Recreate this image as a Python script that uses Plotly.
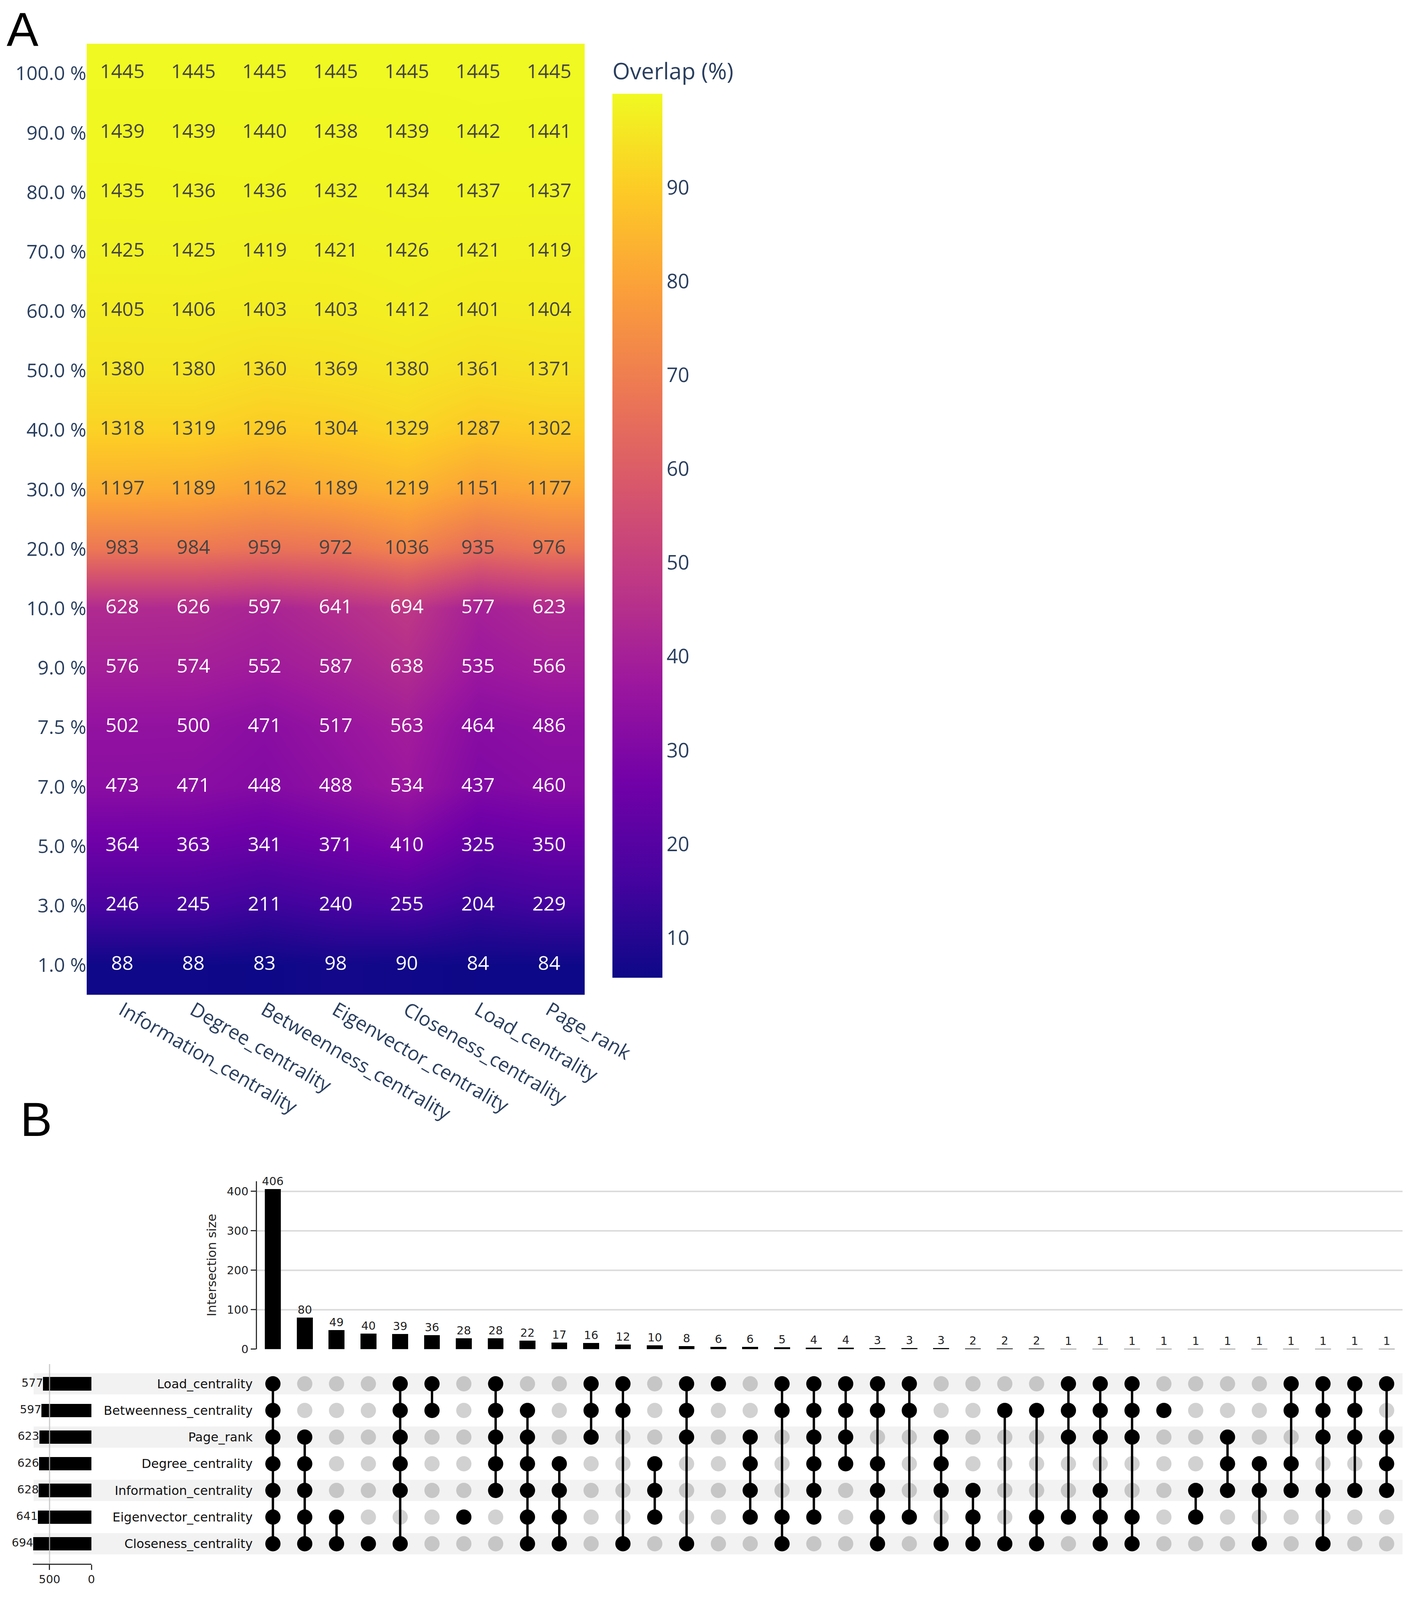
import plotly.graph_objects as go

# reference frame is 3605 x 4342; the figure is drawn a little smaller so that
# the page (with its 8 px body margin) fits in the visible browser area
REF_W, REF_H = 3605, 4342
BODY = 8
W = REF_W - 2 * BODY
H = 4060


def fx(px):
    return (px - BODY) / W


def fy(px):
    return 1 - px / REF_H


# ==================================================
# Panel A data: overlap of top-ranked nodes
# ==================================================

centralities = [
    "Information_centrality", "Degree_centrality", "Betweenness_centrality",
    "Eigenvector_centrality", "Closeness_centrality", "Load_centrality", "Page_rank",
]

top_fractions = [
    "100.0 %", "90.0 %", "80.0 %", "70.0 %", "60.0 %", "50.0 %", "40.0 %", "30.0 %",
    "20.0 %", "10.0 %", "9.0 %", "7.5 %", "7.0 %", "5.0 %", "3.0 %", "1.0 %",
]

n_nodes = 1445

overlap_counts = [
    [1445, 1445, 1445, 1445, 1445, 1445, 1445],
    [1439, 1439, 1440, 1438, 1439, 1442, 1441],
    [1435, 1436, 1436, 1432, 1434, 1437, 1437],
    [1425, 1425, 1419, 1421, 1426, 1421, 1419],
    [1405, 1406, 1403, 1403, 1412, 1401, 1404],
    [1380, 1380, 1360, 1369, 1380, 1361, 1371],
    [1318, 1319, 1296, 1304, 1329, 1287, 1302],
    [1197, 1189, 1162, 1189, 1219, 1151, 1177],
    [983, 984, 959, 972, 1036, 935, 976],
    [628, 626, 597, 641, 694, 577, 623],
    [576, 574, 552, 587, 638, 535, 566],
    [502, 500, 471, 517, 563, 464, 486],
    [473, 471, 448, 488, 534, 437, 460],
    [364, 363, 341, 371, 410, 325, 350],
    [246, 245, 211, 240, 255, 204, 229],
    [88, 88, 83, 98, 90, 84, 84],
]

colorbar_ticks = [10, 20, 30, 40, 50, 60, 70, 80, 90]

# ==================================================
# Panel B data: UpSet of the 10 % sets
# ==================================================

set_names = [
    "Load_centrality", "Betweenness_centrality", "Page_rank", "Degree_centrality",
    "Information_centrality", "Eigenvector_centrality", "Closeness_centrality",
]
set_keys = ["L", "B", "P", "D", "I", "E", "C"]
set_sizes = [577, 597, 623, 626, 628, 641, 694]

intersection_sizes = [
    406, 80, 49, 40, 39, 36, 28, 28, 22, 17, 16, 12, 10, 8, 6, 6, 5, 4,
    4, 3, 3, 3, 2, 2, 2, 1, 1, 1, 1, 1, 1, 1, 1, 1, 1, 1,
]
intersection_members = [
    "LBPDIEC", "PDIEC", "EC", "C", "LBPDIC", "LB", "E", "LBPDI", "BPDIEC",
    "DIEC", "LBP", "LBC", "DIE", "LBPC", "L", "PDIE", "LBEC", "LBPDIE",
    "LBPD", "LBDIEC", "LBE", "PDIC", "IEC", "BC", "BEC", "LBPE",
    "LBPIEC", "LBPEC", "B", "IE", "PDI", "DIC", "LBDI", "LBPIC", "LBPI", "LPDI",
]

intersection_ticks = [0, 100, 200, 300, 400]
set_size_ticks = [500, 0]

# ==================================================
# Heatmap
# ==================================================

overlap_pct = [[c / n_nodes * 100 for c in row] for row in overlap_counts]

# colour bar: bar from y=245 to y=2668 (reference px), title sits above it
cb_title_px = 81
cb_top = 245 * H / REF_H - cb_title_px
cb_bottom = 2668 * H / REF_H

fig = go.Figure()

fig.add_trace(
    go.Heatmap(
        z=overlap_pct,
        x=centralities,
        y=top_fractions,
        colorscale="Plasma",
        zsmooth="best",
        xaxis="x",
        yaxis="y",
        colorbar=dict(
            x=fx(1568),
            xanchor="left",
            y=1 - cb_top / H,
            yanchor="top",
            len=(cb_bottom - cb_top) / H,
            lenmode="fraction",
            thickness=128,
            thicknessmode="pixels",
            xpad=0,
            ypad=0,
            outlinewidth=0,
            tickvals=colorbar_ticks,
            tickfont=dict(size=51, color="#2a3f5f"),
            title=dict(text="Overlap (%)", side="top", font=dict(size=58, color="#2a3f5f")),
        ),
        hoverinfo="skip",
    )
)

tx, ty, tt, tc = [], [], [], []
for r, label in enumerate(top_fractions):
    for c, name in enumerate(centralities):
        tx.append(name)
        ty.append(label)
        tt.append(str(overlap_counts[r][c]))
        tc.append("#444444" if overlap_pct[r][c] > 55 else "white")

fig.add_trace(
    go.Scatter(
        x=tx,
        y=ty,
        mode="text",
        text=tt,
        textfont=dict(size=50, color=tc, family="Open Sans"),
        xaxis="x",
        yaxis="y",
        showlegend=False,
        hoverinfo="skip",
    )
)

# ==================================================
# UpSet: intersection size bars
# ==================================================

cols = list(range(len(intersection_sizes)))

fig.add_trace(
    go.Bar(
        x=cols,
        y=intersection_sizes,
        width=0.5,
        marker=dict(color="black", line=dict(width=0)),
        text=[str(v) for v in intersection_sizes],
        textposition="outside",
        constraintext="none",
        cliponaxis=False,
        textfont=dict(size=29, family="DejaVu Sans", color="#222222"),
        xaxis="x2",
        yaxis="y2",
        showlegend=False,
        hoverinfo="skip",
    )
)

# ==================================================
# UpSet: matrix
# ==================================================

on_x, on_y, off_x, off_y, line_x, line_y = [], [], [], [], [], []
for c, members in enumerate(intersection_members):
    rows_on = []
    for r, key in enumerate(set_keys):
        if key in members:
            on_x.append(c)
            on_y.append(r)
            rows_on.append(r)
        else:
            off_x.append(c)
            off_y.append(r)
    if len(rows_on) > 1:
        line_x += [c, c, None]
        line_y += [min(rows_on), max(rows_on), None]

fig.add_trace(
    go.Scatter(
        x=off_x, y=off_y, mode="markers",
        marker=dict(size=39, color="rgba(0,0,0,0.18)", line=dict(width=0)),
        xaxis="x3", yaxis="y3", showlegend=False, hoverinfo="skip",
    )
)
fig.add_trace(
    go.Scatter(
        x=line_x, y=line_y, mode="lines",
        line=dict(color="black", width=6),
        xaxis="x3", yaxis="y3", showlegend=False, hoverinfo="skip",
    )
)
fig.add_trace(
    go.Scatter(
        x=on_x, y=on_y, mode="markers",
        marker=dict(size=39, color="black", line=dict(width=0)),
        xaxis="x3", yaxis="y3", showlegend=False, hoverinfo="skip",
    )
)

# ==================================================
# UpSet: set size bars
# ==================================================

set_rows = list(range(len(set_sizes)))

fig.add_trace(
    go.Bar(
        x=set_sizes,
        y=set_rows,
        orientation="h",
        width=0.5,
        marker=dict(color="black", line=dict(width=0)),
        cliponaxis=False,
        xaxis="x4",
        yaxis="y3",
        showlegend=False,
        hoverinfo="skip",
    )
)

fig.add_trace(
    go.Scatter(
        x=set_sizes,
        y=set_rows,
        mode="text",
        text=[str(v) for v in set_sizes],
        textposition="middle left",
        textfont=dict(size=29, family="DejaVu Sans", color="#222222"),
        cliponaxis=False,
        xaxis="x4",
        yaxis="y3",
        showlegend=False,
        hoverinfo="skip",
    )
)

# row shading
for r in range(0, len(set_names), 2):
    fig.add_shape(
        type="rect",
        xref="paper", yref="y3",
        x0=fx(86), x1=fx(3591),
        y0=r - 0.4, y1=r + 0.4,
        fillcolor="rgba(0,0,0,0.05)",
        line=dict(width=0),
        layer="below",
    )

# grid line of the set size axis
fig.add_shape(
    type="line",
    xref="x4", yref="y3 domain",
    x0=set_size_ticks[0], x1=set_size_ticks[0], y0=0, y1=1,
    line=dict(color="rgba(190,190,190,0.8)", width=3),
    layer="above",
)

# ==================================================
# Layout
# ==================================================

dejavu = "DejaVu Sans"

fig.update_layout(
    width=W,
    height=H,
    autosize=False,
    margin=dict(l=0, r=0, t=0, b=0, pad=0),
    paper_bgcolor="white",
    plot_bgcolor="white",
    font=dict(family="Open Sans", color="#2a3f5f"),
    showlegend=False,
    bargap=0,

    xaxis=dict(
        domain=[fx(222), fx(1497)],
        anchor="y",
        automargin=False,
        range=[-0.5, len(centralities) - 0.5],
        tickangle=30,
        tickfont=dict(size=50, color="#2a3f5f"),
        showgrid=False,
        zeroline=False,
        ticks="",
    ),
    yaxis=dict(
        domain=[fy(2715), fy(111)],
        anchor="x",
        automargin=False,
        range=[len(top_fractions) - 0.5, -0.5],
        tickfont=dict(size=50, color="#2a3f5f"),
        showgrid=False,
        zeroline=False,
        ticks="",
    ),

    xaxis2=dict(
        domain=[fx(658), fx(3591)],
        anchor="y2",
        automargin=False,
        range=[-0.5, len(cols) - 0.5],
        visible=False,
    ),
    yaxis2=dict(
        domain=[fy(3685), fy(3225)],
        anchor="x2",
        automargin=False,
        range=[0, 426],
        tickvals=intersection_ticks,
        showgrid=True,
        gridcolor="#dcdcdc",
        gridwidth=4,
        zeroline=False,
        showline=True,
        linecolor="#333333",
        linewidth=3,
        ticks="outside",
        ticklen=13,
        tickwidth=3,
        tickcolor="#333333",
        tickfont=dict(size=29, family=dejavu, color="#222222"),
        title=dict(text="Intersection size", font=dict(size=32, family=dejavu, color="#222222"), standoff=18),
    ),

    xaxis3=dict(
        domain=[fx(658), fx(3591)],
        anchor="y3",
        automargin=False,
        range=[-0.5, len(cols) - 0.5],
        visible=False,
    ),
    yaxis3=dict(
        domain=[fy(4272), fy(3726)],
        anchor="x3",
        automargin=False,
        range=[6.74, -0.74],
        tickvals=set_rows,
        ticktext=set_names,
        tickfont=dict(size=32, family=dejavu, color="#111111"),
        ticklabelstandoff=10,
        showgrid=False,
        zeroline=False,
        ticks="",
    ),

    xaxis4=dict(
        domain=[fx(84), fx(234)],
        anchor="y3",
        automargin=False,
        range=[700, 0],
        tickvals=set_size_ticks,
        showgrid=False,
        zeroline=False,
        showline=True,
        linecolor="#333333",
        linewidth=3,
        ticks="outside",
        ticklen=13,
        tickwidth=3,
        tickcolor="#333333",
        tickfont=dict(size=29, family=dejavu, color="#222222"),
    ),
)

# panel letters
fig.add_annotation(
    text="A", x=fx(15), y=fy(73), xref="paper", yref="paper",
    xanchor="left", yanchor="middle", showarrow=False,
    font=dict(size=122, family="Liberation Sans", color="black"),
)
fig.add_annotation(
    text="B", x=fx(50), y=fy(3057), xref="paper", yref="paper",
    xanchor="left", yanchor="middle", showarrow=False,
    font=dict(size=122, family="Liberation Sans", color="black"),
)

fig.write_html("out.html")
